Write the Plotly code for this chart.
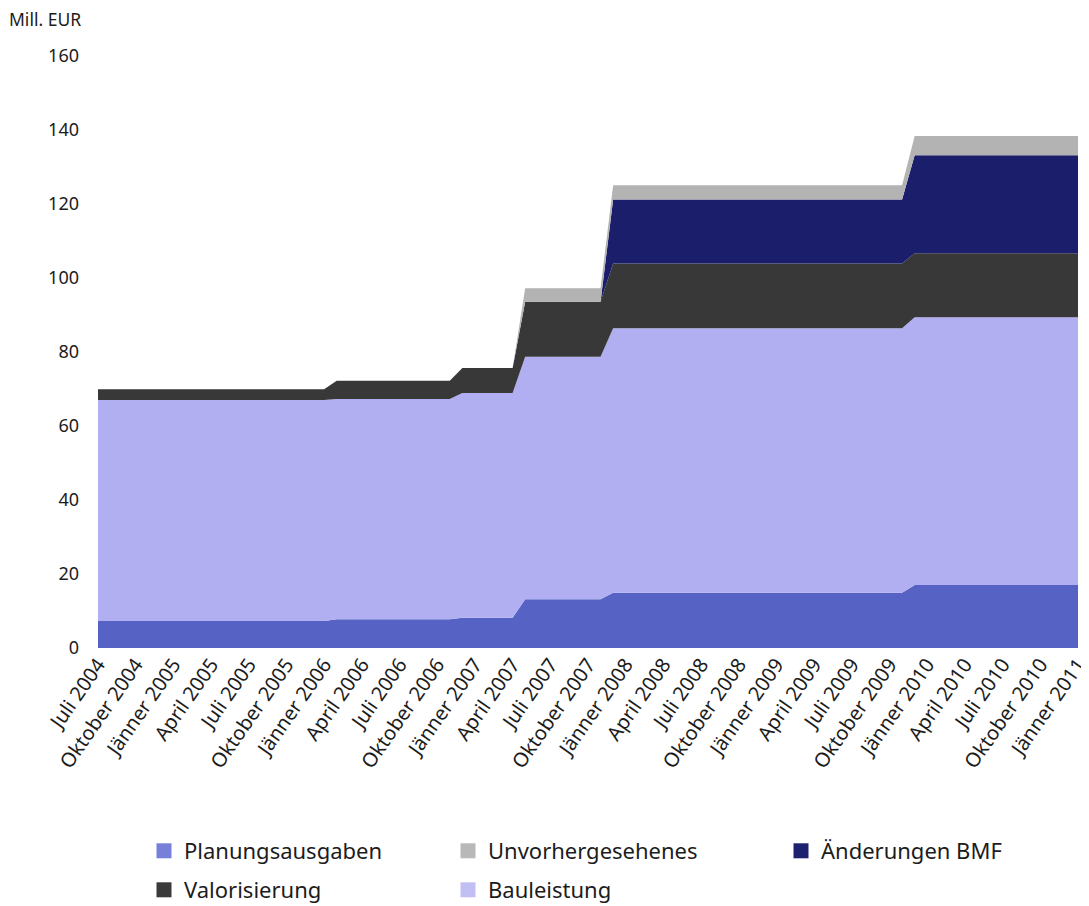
import plotly.graph_objects as go

# ---- data (Mill. EUR), monthly from Juli 2004 to Jänner 2011 ----
month_names = ["Jänner", "Februar", "März", "April", "Mai", "Juni", "Juli",
               "August", "September", "Oktober", "November", "Dezember"]
months = []
for year in range(2004, 2012):
    for mi, mn in enumerate(month_names):
        if (year == 2004 and mi < 6) or (year == 2011 and mi > 0):
            continue
        months.append(f"{mn} {year}")

quarter_labels = ["Juli 2004", "Oktober 2004", "Jänner 2005", "April 2005", "Juli 2005",
                  "Oktober 2005", "Jänner 2006", "April 2006", "Juli 2006", "Oktober 2006",
                  "Jänner 2007", "April 2007", "Juli 2007", "Oktober 2007", "Jänner 2008",
                  "April 2008", "Juli 2008", "Oktober 2008", "Jänner 2009", "April 2009",
                  "Juli 2009", "Oktober 2009", "Jänner 2010", "April 2010", "Juli 2010",
                  "Oktober 2010", "Jänner 2011"]

planungsausgaben = [7.3] * 19 + [7.8] * 10 + [8.2] * 5 + [13.2] * 7 + [14.9] * 24 + [17.0] * 14
bauleistung = [59.7] * 19 + [59.5] * 10 + [60.7] * 5 + [65.5] * 7 + [71.5] * 24 + [72.4] * 14
valorisierung = [2.9] * 19 + [4.9] * 10 + [6.8] * 5 + [14.9] * 7 + [17.5] * 24 + [17.3] * 14
aenderungen_bmf = [0.0] * 19 + [0.0] * 10 + [0.0] * 5 + [0.0] * 7 + [17.3] * 24 + [26.5] * 14
unvorhergesehenes = [0.0] * 19 + [0.0] * 10 + [0.0] * 5 + [3.6] * 7 + [3.9] * 24 + [5.2] * 14

# name, values, fill colour, legend swatch colour, legend slot
series = [
    ("Planungsausgaben", planungsausgaben, "#5663c4", "#7680d8", "legend"),
    ("Bauleistung", bauleistung, "#b2aef2", "#c2bff5", "legend5"),
    ("Valorisierung", valorisierung, "#383838", "#3a3a3a", "legend4"),
    ("Änderungen BMF", aenderungen_bmf, "#1b1f6b", "#1e226e", "legend3"),
    ("Unvorhergesehenes", unvorhergesehenes, "#b3b3b3", "#b8b8b8", "legend2"),
]

FONT = "Noto Sans"
TXT = "#1c1c1c"

fig = go.Figure()
for name, vals, col, swatch, leg in series:
    fig.add_trace(go.Scatter(
        x=months, y=vals, name=name, stackgroup="one", mode="lines",
        line=dict(width=0, color=col), fillcolor=col,
        showlegend=False, legendgroup=name, hoverinfo="x+y+name",
    ))
for name, vals, col, swatch, leg in series:
    fig.add_trace(go.Scatter(
        x=[None], y=[None], name=name, mode="markers",
        marker=dict(symbol="square", size=15, color=swatch),
        legend=leg, legendgroup=name, showlegend=True,
    ))

# page body has an 8px margin -> work in page pixels, subtract offset
OFF = 8
W, H = 1089 - OFF, 906 - OFF
PL, PR, PT, PB = 98 - OFF, 1078 - OFF, 56 - OFF, 648 - OFF


def px_x(px):
    return (px - OFF - PL) / (PR - PL)


def px_y(py):
    return (PB - (py - OFF)) / (PB - PT)


def leg(xpx, ypx):
    return dict(
        orientation="h", x=px_x(xpx), xanchor="left", y=px_y(ypx), yanchor="middle",
        font=dict(family=FONT, size=22, color=TXT), bgcolor="rgba(0,0,0,0)",
        itemclick=False, itemdoubleclick=False,
    )


fig.update_layout(
    width=W, height=H,
    margin=dict(l=PL, r=W - PR, t=PT, b=H - PB, autoexpand=False),
    paper_bgcolor="white", plot_bgcolor="white",
    font=dict(family=FONT, size=17, color=TXT),
    xaxis=dict(
        type="category", range=[0, len(months) - 1], automargin=False,
        tickmode="array", tickvals=quarter_labels, ticktext=quarter_labels,
        tickangle=-55, showgrid=False, zeroline=False, showline=False,
        ticks="", tickfont=dict(family=FONT, size=20, color=TXT),
    ),
    yaxis=dict(
        range=[0, 160], tickmode="array", tickvals=[0, 20, 40, 60, 80, 100, 120, 140, 160],
        showgrid=False, zeroline=False, showline=False, ticks="", automargin=False,
        ticklabelstandoff=18, tickfont=dict(family=FONT, size=18, color=TXT),
    ),
    legend=leg(144, 851),
    legend2=leg(448, 851),
    legend3=leg(781, 851),
    legend4=leg(144, 890),
    legend5=leg(448, 890),
    annotations=[dict(
        text="Mill. EUR", xref="paper", yref="paper", x=px_x(7), y=px_y(19),
        xanchor="left", yanchor="middle", showarrow=False,
        font=dict(family=FONT, size=17.5, color=TXT),
    )],
)

fig.write_html("out.html")
